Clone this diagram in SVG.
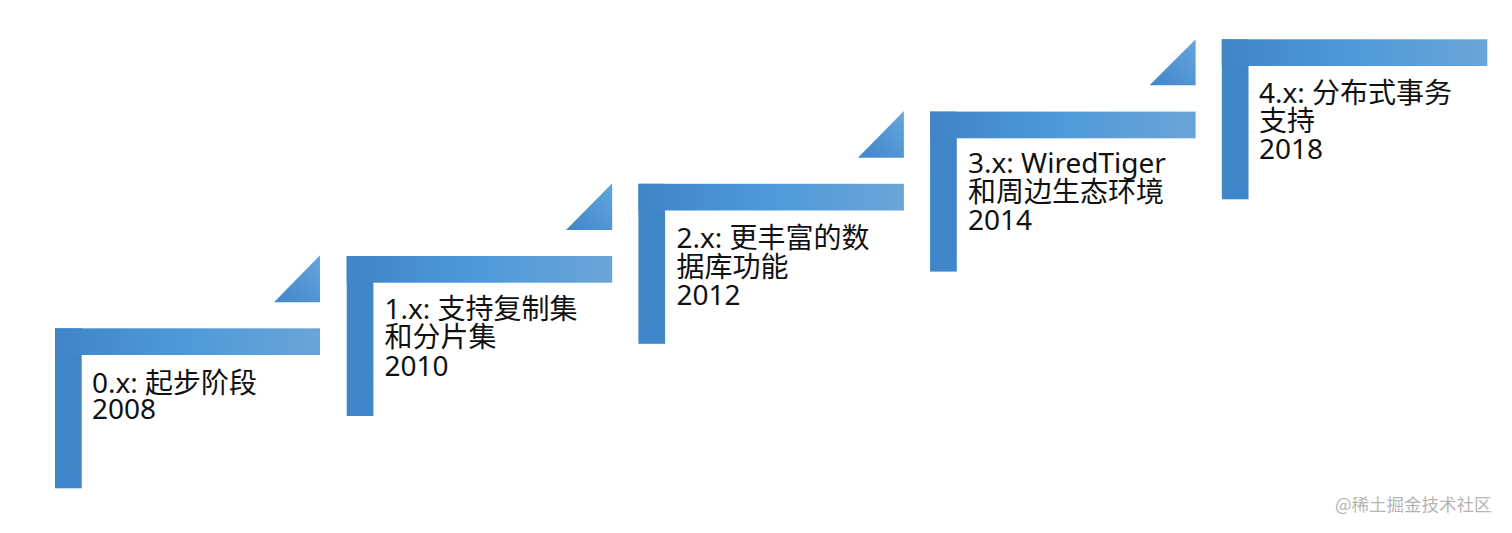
<svg xmlns="http://www.w3.org/2000/svg" width="1512" height="533" viewBox="0 0 1512 533">
<defs>
<linearGradient id="hbar" x1="0" y1="0" x2="1" y2="0">
<stop offset="0" stop-color="#3F84C7"/>
<stop offset="0.5" stop-color="#4E9AD9"/>
<stop offset="1" stop-color="#6BA4D8"/>
</linearGradient>
<linearGradient id="vbar" x1="0" y1="0" x2="0" y2="1">
<stop offset="0" stop-color="#3F85C8"/>
<stop offset="1" stop-color="#3F87CA"/>
</linearGradient>
<linearGradient id="tri" x1="0" y1="1" x2="1" y2="0">
<stop offset="0" stop-color="#3F85C9"/>
<stop offset="1" stop-color="#66A6DE"/>
</linearGradient>
<style>
.h{fill:url(#hbar)}
.v{fill:url(#vbar)}
.t{fill:url(#tri)}
.lbl{font-family:"Noto Sans","Noto Sans CJK SC",sans-serif;font-size:28px;fill:#111}
.wm{font-family:"Noto Sans CJK SC",sans-serif;font-size:17.5px;fill:#B5B5B5}
</style>
</defs>
<g id="connectors"></g>
<g id="step0">
<rect class="v" x="55" y="328.3" width="26.7" height="160"/>
<rect class="h" x="55" y="328.3" width="265" height="26.7"/>
<polygon class="t" points="274,302.3 320,302.3 320,255.3"/>
<text class="lbl" x="92" y="392.5">0.x: 起步阶段<tspan x="92" y="418.5">2008</tspan></text>
</g>
<g id="step1">
<rect class="v" x="346.7" y="256" width="26.7" height="160"/>
<rect class="h" x="346.7" y="256" width="265.5" height="26.7"/>
<polygon class="t" points="566,230 612.2,230 612.2,183.3"/>
<text class="lbl" x="384.5" y="318.5">1.x: 支持复制集<tspan x="384.5" y="347">和分片集</tspan><tspan x="384.5" y="375.5">2010</tspan></text>
</g>
<g id="step2">
<rect class="v" x="638.4" y="183.8" width="26.7" height="160"/>
<rect class="h" x="638.4" y="183.8" width="265.5" height="26.7"/>
<polygon class="t" points="857.9,157.8 903.9,157.8 903.9,111"/>
<text class="lbl" x="676.5" y="248">2.x: 更丰富的数<tspan x="676.5" y="276.5">据库功能</tspan><tspan x="676.5" y="305">2012</tspan></text>
</g>
<g id="step3">
<rect class="v" x="930.1" y="111.6" width="26.7" height="160"/>
<rect class="h" x="930.1" y="111.6" width="265.5" height="26.7"/>
<polygon class="t" points="1149.6,85.3 1195.6,85.3 1195.6,39.3"/>
<text class="lbl" x="968" y="173">3.x: WiredTiger<tspan x="968" y="201.5">和周边生态环境</tspan><tspan x="968" y="230">2014</tspan></text>
</g>
<g id="step4">
<rect class="v" x="1221.8" y="39.3" width="26.7" height="160"/>
<rect class="h" x="1221.8" y="39.3" width="265.5" height="26.7"/>
<text class="lbl" x="1259" y="102.7">4.x: 分布式事务<tspan x="1259" y="131">支持</tspan><tspan x="1259" y="159.3">2018</tspan></text>
</g>
<text class="wm" x="1335" y="511">@稀土掘金技术社区</text>
</svg>
